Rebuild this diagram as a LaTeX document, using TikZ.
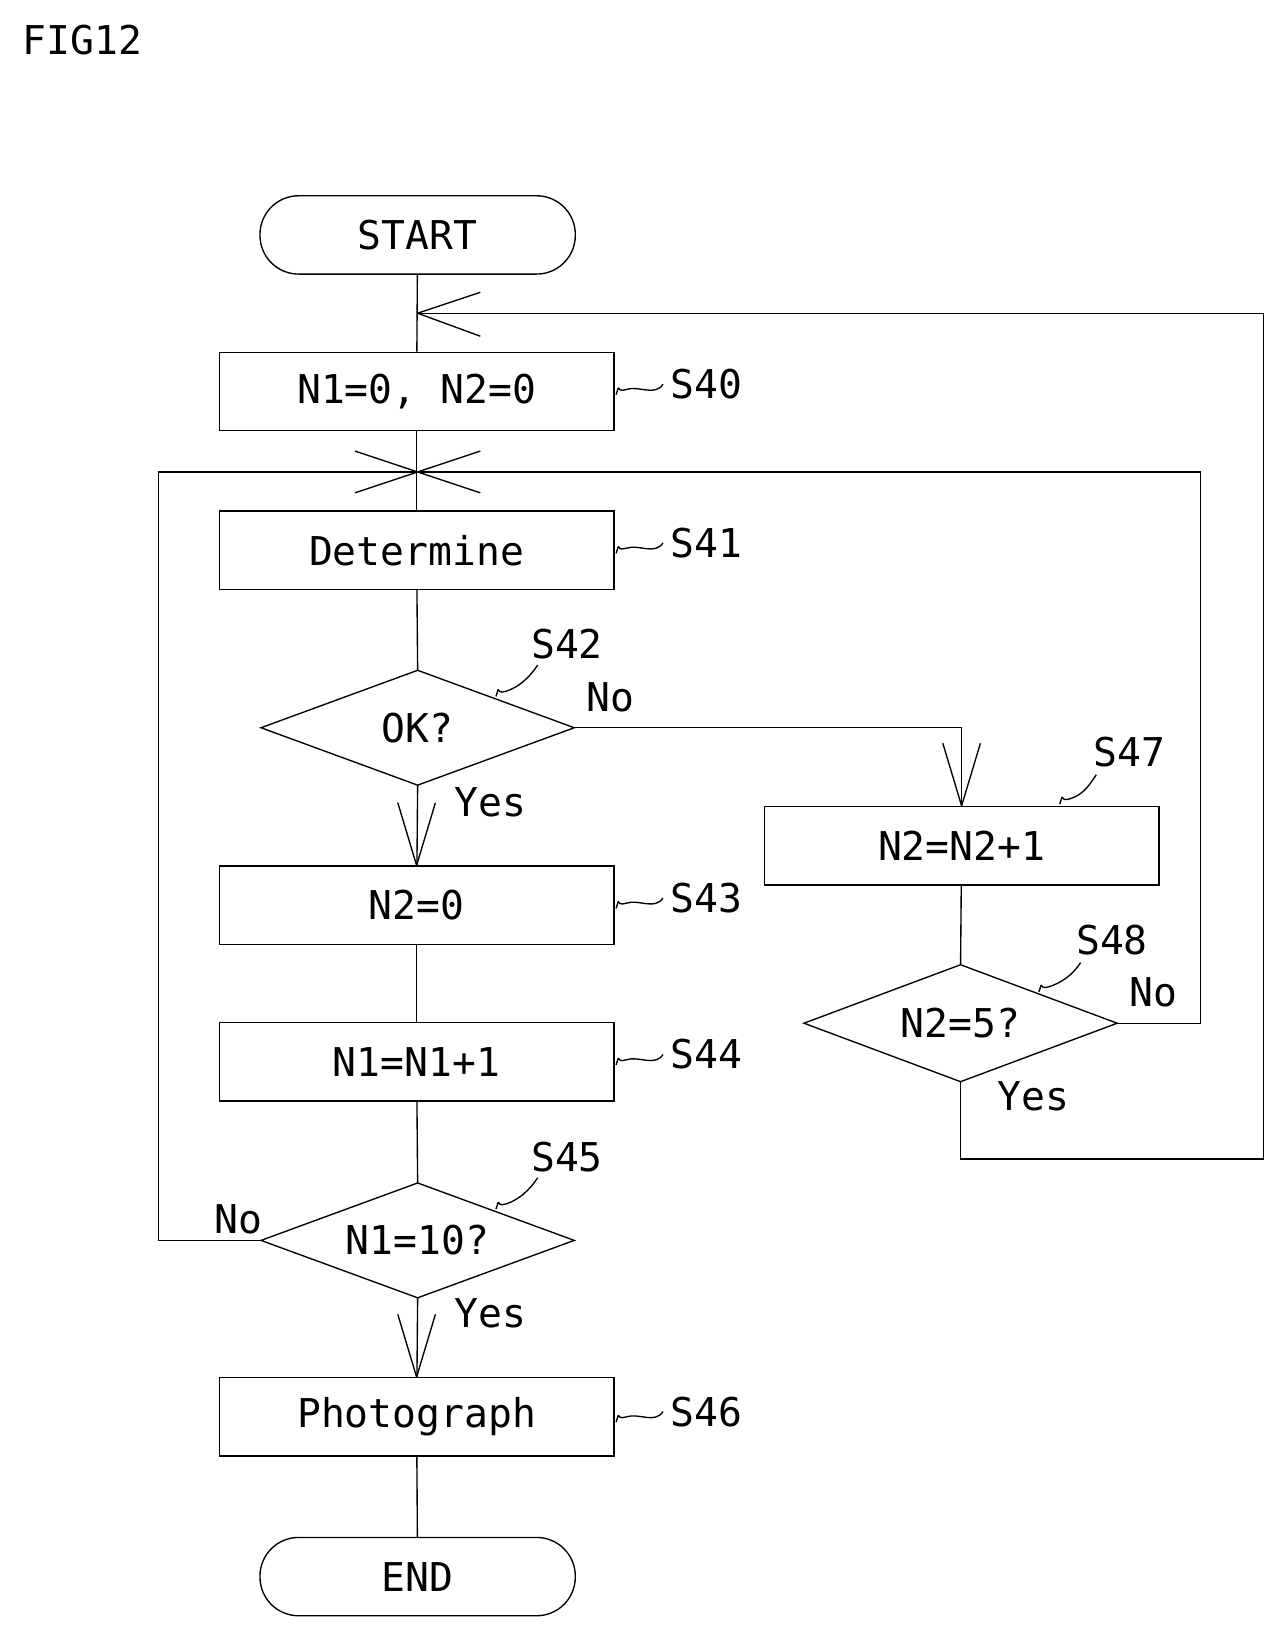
\documentclass[tikz,border=0pt]{standalone}
\usepackage{fontspec}
\setmainfont{DejaVu Sans Mono}
\begin{document}
\begin{tikzpicture}[x=1pt,y=-1pt,line width=1.3pt,
 box/.style={draw,minimum width=378pt,minimum height=75pt,inner sep=0pt},
 term/.style={draw,rounded corners=37pt,minimum width=302pt,minimum height=75pt},
 dia/.style={draw,shape=coordinate},
 txt/.style={font=\fontsize{38}{40}\selectfont,inner sep=0pt}]
\useasboundingbox (0,0) rectangle (1230,1565);
\tikzset{every node/.append style={font=\fontsize{38}{40}\selectfont}}
\newcommand\opena[3]{\draw (#1) -- ++(#2) (#1) -- ++(#3);}
\newcommand\diam[4]{\draw (#1-#3,#2) -- (#1,#2-#4) -- (#1+#3,#2) -- (#1,#2+#4) -- cycle;}
\newcommand\sq[2]{\draw (#1) .. controls +(5,-14) and +(-12,4) .. +(10,-5) .. controls +(12,-4) and +(-8,12) .. (#2);}
\node[anchor=west] (fig) at (18,38) {FIG12};
\node[term] (start) at (400,225) {START};
\node[box] (s40) at (399,375) {N1=0, N2=0};
\node[box] (s41) at (399,527) {Determine};
\diam{400}{697}{150}{55}
\coordinate (s42t) at (400,642); \coordinate (s42b) at (400,752); \coordinate (s42r) at (550,697);
\node at (400,697) {OK?};
\node[box] (s43) at (399,867) {N2=0};
\node[box] (s44) at (399,1017) {N1=N1+1};
\diam{400}{1188}{150}{55}
\coordinate (s45t) at (400,1133); \coordinate (s45b) at (400,1243); \coordinate (s45l) at (250,1188);
\node at (400,1188) {N1=10?};
\node[box] (s46) at (399,1357) {Photograph};
\node[term] (end) at (400,1510) {END};
\node[box] (s47) at (921,810) {N2=N2+1};
\diam{920}{980}{150}{56}
\coordinate (s48t) at (920,924); \coordinate (s48b) at (920,1036); \coordinate (s48r) at (1070,980);
\node at (920,980) {N2=5?};
% connectors
\draw (start) -- (s40);
\draw (s40) -- (s41);
\draw (s41) -- (s42t);
\draw (s42b) -- (s43);
\draw (s43) -- (s44);
\draw (s44) -- (s45t);
\draw (s45b) -- (s46);
\draw (s46) -- (end);
\draw (s42r) -| (s47);
\draw (s47) -- (s48t);
\coordinate (j1) at (400,300); \coordinate (j2) at (400,452);
\draw (s48b) -- (920,1110) -- (1210,1110) -- (1210,300) -- (j1);
\draw (s48r) -- (1150,980) -- (1150,452) -- (j2);
\draw (s45l) -- (152,1188) -- (152,452) -- (j2);
% arrowheads
\opena{j1}{60,-20}{60,22}
\opena{j2}{60,-20}{60,20}
\opena{j2}{-60,-20}{-60,20}
\opena{s43.north}{-18,-60}{18,-60}
\opena{s46.north}{-18,-60}{18,-60}
\opena{s47.north}{-18,-60}{18,-60}
% step labels
\sq{590,378}{635,368}\node[anchor=west] at (638,368) {S40};
\sq{590,530}{635,520}\node[anchor=west] at (638,520) {S41};
\sq{590,870}{635,860}\node[anchor=west] at (638,860) {S43};
\sq{590,1020}{635,1010}\node[anchor=west] at (638,1010) {S44};
\sq{590,1362}{635,1352}\node[anchor=west] at (638,1352) {S46};
\sq{475,667}{515,637}\node at (543,617) {S42};
\sq{475,1158}{515,1128}\node at (543,1108) {S45};
\sq{1015,770}{1050,742}\node at (1082,720) {S47};
\sq{995,950}{1035,922}\node at (1065,900) {S48};
\node at (585,668) {No};
\node at (470,768) {Yes};
\node at (470,1258) {Yes};
\node at (228,1168) {No};
\node at (1105,950) {No};
\node at (990,1050) {Yes};
\end{tikzpicture}
\end{document}
